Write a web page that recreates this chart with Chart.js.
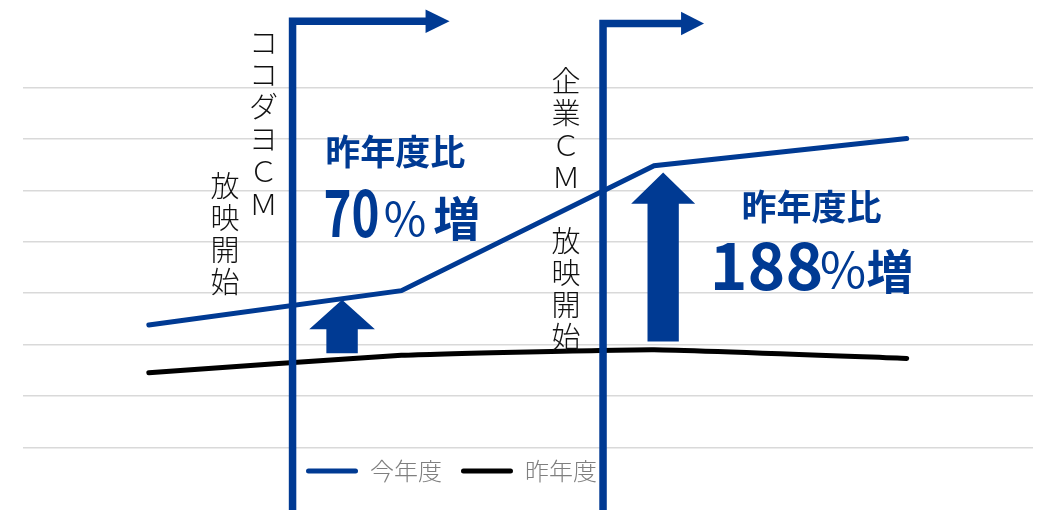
<!DOCTYPE html>
<html lang="ja">
<head>
<meta charset="utf-8">
<title>今年度・昨年度 推移</title>
<script src="https://cdn.jsdelivr.net/npm/chart.js@4/dist/chart.umd.min.js"></script>
<style>
html, body { margin: 0; padding: 0; background: #fff; }
#wrap { width: 1038px; height: 510px; position: relative; }
</style>
</head>
<body>
<div id="wrap"><canvas id="c1"></canvas></div>
<script>
"use strict";

// 横軸（ラベルは非表示）
let periods = ['第1期', '第2期', '第3期', '第4期'];
// 今年度 / 昨年度
let thisYear = [238, 305, 548, 601];
let lastYear = [145, 179, 190, 173];
// 縦軸の目盛り（グリッド線のみ表示）
let yTicks = [0, 100, 200, 300, 400, 500, 600, 700];

let BLUE = '#003a93';
let JP = '"Noto Sans CJK JP", "Noto Sans", sans-serif';

// 昨年度比の増加率（%）
function growth(i) {
    return Math.round((thisYear[i] / lastYear[i] - 1) * 100);
}

// 縦書き
function vtext(ctx, str, x, y, pitch) {
    [...str].forEach((ch, k) => {
        if (ch !== '　') ctx.fillText(ch, x, y + k * pitch);
    });
}

// CM開始の折れ矢印
function bracket(ctx, x, yTop, armLen, tipLen, bottom) {
    ctx.strokeStyle = BLUE;
    ctx.fillStyle = BLUE;
    ctx.lineWidth = 7.5;
    ctx.lineJoin = 'miter';
    ctx.lineCap = 'butt';
    ctx.beginPath();
    ctx.moveTo(x, bottom);
    ctx.lineTo(x, yTop);
    ctx.lineTo(x + armLen, yTop);
    ctx.stroke();
    ctx.beginPath();
    ctx.moveTo(x + armLen - 1, yTop - 11.7);
    ctx.lineTo(x + tipLen, yTop);
    ctx.lineTo(x + armLen - 1, yTop + 11.7);
    ctx.closePath();
    ctx.fill();
}

// 上向きの太矢印
function upArrow(ctx, cx, yBottom, yHeadBase, yTip, shaftW, headW) {
    ctx.fillStyle = BLUE;
    ctx.beginPath();
    ctx.moveTo(cx - shaftW / 2, yBottom);
    ctx.lineTo(cx - shaftW / 2, yHeadBase);
    ctx.lineTo(cx - headW / 2, yHeadBase);
    ctx.lineTo(cx, yTip);
    ctx.lineTo(cx + headW / 2, yHeadBase);
    ctx.lineTo(cx + shaftW / 2, yHeadBase);
    ctx.lineTo(cx + shaftW / 2, yBottom);
    ctx.closePath();
    ctx.fill();
}

// 「昨年度比 ○%増」
function rateLabel(ctx, cx, yHead, yNum, num, numX, numW, pctX, pctSize, zoX) {
    ctx.fillStyle = BLUE;
    ctx.textAlign = 'center';
    ctx.textBaseline = 'alphabetic';
    ctx.font = 'bold 35px ' + JP;
    ctx.fillText('昨年度比', cx, yHead);
    ctx.font = 'bold 64px ' + JP;
    ctx.fillText(String(num), numX, yNum, numW);
    ctx.font = '400 ' + pctSize + 'px ' + JP;
    ctx.fillText('％', pctX, yNum - 1);
    ctx.font = 'bold 47px ' + JP;
    ctx.fillText('増', zoX, yNum - 1);
}

let overlay = {
    id: 'overlay',
    afterLayout(chart) {
        // 凡例を左寄せ・少し上へ
        let lg = chart.legend;
        let pad = lg.options.labels.padding;
        let x0 = (lg.left + pad + lg.right - lg.lineWidths[0]) / 2;
        let dx = 306 - x0;
        let dy = 471 - (lg.top + pad + 12);
        lg.left += dx; lg.right += dx;
        lg.top += dy; lg.bottom += dy;
    },
    afterDraw(chart) {
        let ctx = chart.ctx;
        let xs = chart.scales.x;
        let ys = chart.scales.y;
        let H = chart.height;
        ctx.save();

        // 縦書きの注記
        ctx.fillStyle = '#111';
        ctx.font = '300 29px ' + JP;
        ctx.textAlign = 'center';
        ctx.textBaseline = 'middle';
        vtext(ctx, 'ココダヨＣＭ', 263.5, 43, 32.1);
        vtext(ctx, '放映開始', 225, 186, 32);
        vtext(ctx, '企業ＣＭ　放映開始', 566, 81, 32);

        // CM放映開始ライン
        bracket(ctx, xs.getPixelForValue(0.569), 21.3, 134, 157, H);
        bracket(ctx, xs.getPixelForValue(1.798), 23.5, 79, 101, H);

        // 増加を示す矢印
        upArrow(ctx, xs.getPixelForValue(0.765), ys.getPixelForValue(183),
            ys.getPixelForValue(230), ys.getPixelForValue(287), 31.4, 65.7);
        upArrow(ctx, xs.getPixelForValue(2.036), ys.getPixelForValue(206),
            ys.getPixelForValue(474), ys.getPixelForValue(535), 31.3, 64);

        rateLabel(ctx, 395.3, 165, 237, growth(1), 351.5, 56, 405, 46, 456.7);
        rateLabel(ctx, 811.5, 220, 290, growth(2), 766.5, 120, 843, 50, 890);

        ctx.restore();
    }
};

let c1 = document.querySelector('#c1');

let opts = {
    type: 'line',
    data: {
        labels: periods,
        datasets: [
            {
                label: '今年度',
                data: thisYear,
                borderColor: BLUE,
                backgroundColor: BLUE,
                borderWidth: 5,
                borderCapStyle: 'round',
                pointRadius: 0,
                tension: 0,
            },
            {
                label: '昨年度',
                data: lastYear,
                borderColor: '#000',
                backgroundColor: '#000',
                borderWidth: 5,
                borderCapStyle: 'round',
                pointRadius: 0,
                tension: 0.12,
            },
        ],
    },
    options: {
        responsive: true,
        maintainAspectRatio: false,
        animation: false,
        layout: { padding: { left: 22.5, right: 5, top: 87.7, bottom: 14.7 } },
        scales: {
            x: {
                display: false,
                offset: true,
            },
            y: {
                min: yTicks[0],
                max: yTicks[yTicks.length - 1],
                ticks: { display: false, stepSize: yTicks[1] - yTicks[0] },
                grid: { color: '#d9d9d9', lineWidth: 1.4, drawTicks: false },
                border: { display: false },
            },
        },
        plugins: {
            tooltip: { enabled: false },
            legend: {
                position: 'bottom',
                maxHeight: 48,
                labels: {
                    color: '#7f7f7f',
                    font: { family: JP, size: 24, weight: '300' },
                    boxWidth: 52,
                    boxHeight: 5,
                    padding: 19,
                    useBorderRadius: true,
                    borderRadius: 2.5,
                    generateLabels(chart) {
                        let items = Chart.defaults.plugins.legend.labels.generateLabels(chart);
                        return items.map(it => Object.assign(it, { lineWidth: 0 }));
                    },
                },
            },
        },
    },
    plugins: [overlay],
};

let chart1 = new Chart(c1, opts);
</script>
</body>
</html>
